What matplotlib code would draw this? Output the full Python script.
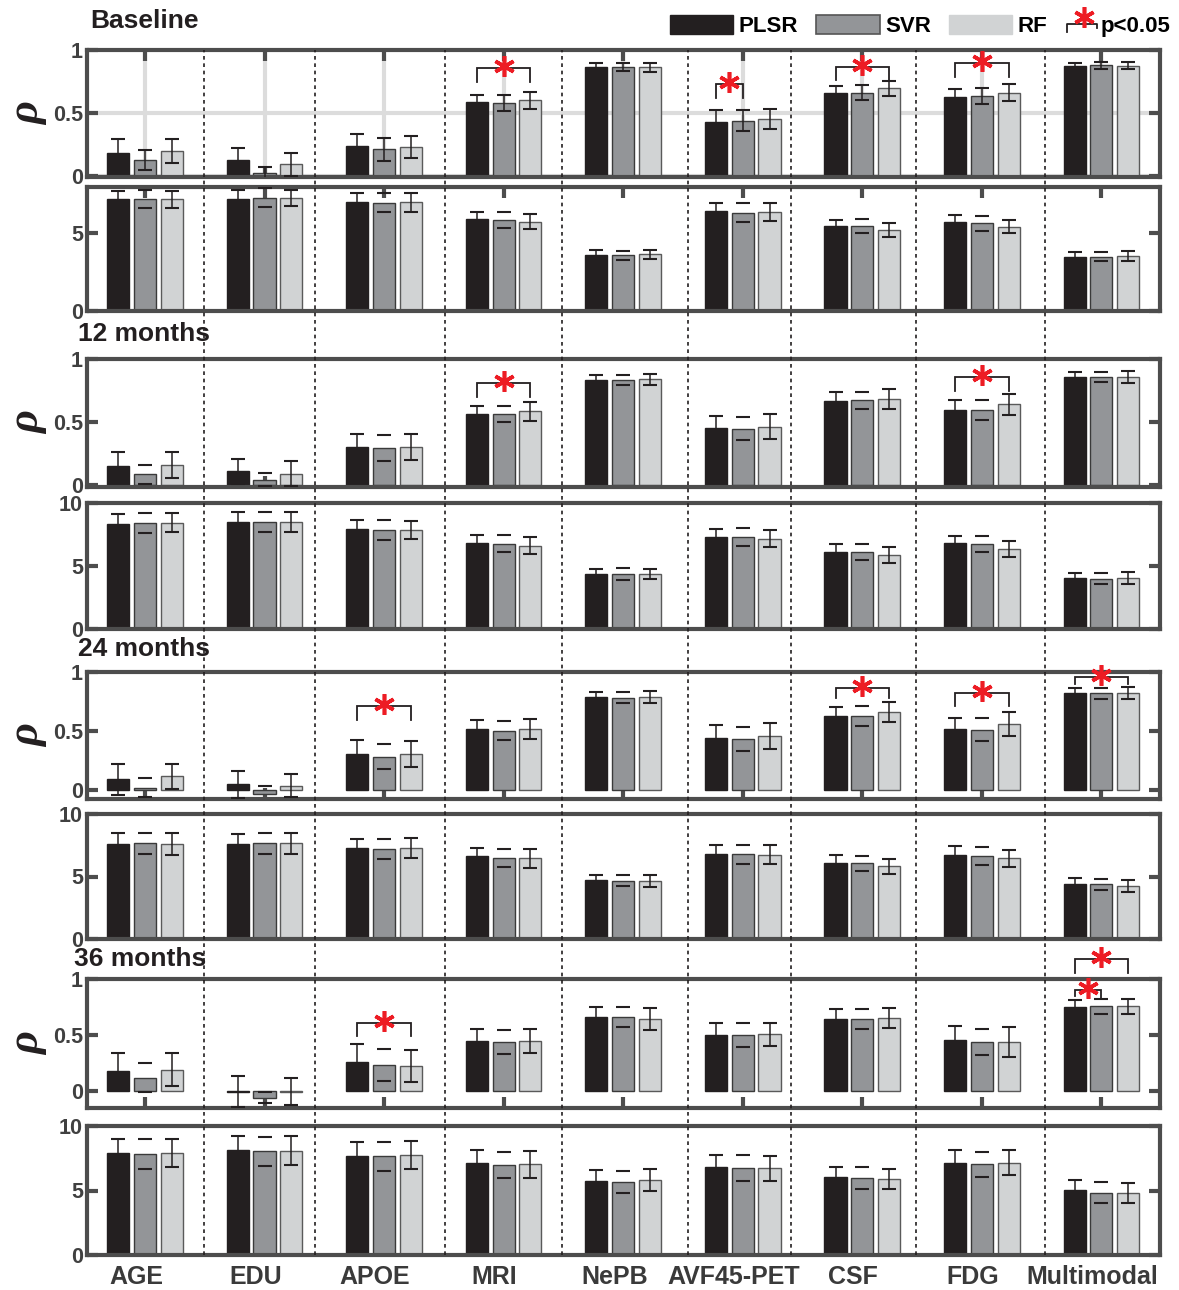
import matplotlib
matplotlib.use('Agg')
import matplotlib.pyplot as plt
import numpy as np
from matplotlib.patches import Patch
from matplotlib.lines import Line2D
from matplotlib.legend_handler import HandlerBase
from matplotlib.transforms import ScaledTranslation

plt.rcParams['font.family'] = ['Liberation Sans', 'DejaVu Sans']
plt.rcParams['font.weight'] = 'bold'

# ---------------- data ----------------
categories = ['AGE', 'EDU', 'APOE', 'MRI', 'NePB', 'AVF45-PET', 'CSF', 'FDG', 'Multimodal']
methods = ['PLSR', 'SVR', 'RF']
timepoints = ['Baseline', '12 months', '24 months', '36 months']

# correlation (rho) – rows: PLSR, SVR, RF
rho_baseline = [[0.18, 0.124, 0.24, 0.584, 0.868, 0.427, 0.662, 0.624, 0.876],
                [0.124, 0.02, 0.21, 0.578, 0.865, 0.438, 0.662, 0.632, 0.878],
                [0.195, 0.09, 0.23, 0.60, 0.862, 0.449, 0.695, 0.662, 0.876]]
rho_baseline_err = [[0.11, 0.10, 0.09, 0.056, 0.03, 0.093, 0.054, 0.066, 0.024],
                    [0.078, 0.05, 0.09, 0.062, 0.03, 0.082, 0.058, 0.063, 0.027],
                    [0.095, 0.09, 0.09, 0.067, 0.033, 0.081, 0.062, 0.07, 0.027]]
rho_12m = [[0.151, 0.109, 0.305, 0.565, 0.833, 0.456, 0.668, 0.594, 0.857],
           [0.085, 0.042, 0.292, 0.56, 0.836, 0.448, 0.671, 0.594, 0.857],
           [0.159, 0.088, 0.302, 0.584, 0.838, 0.464, 0.682, 0.639, 0.857]]
rho_12m_err = [[0.114, 0.10, 0.103, 0.061, 0.042, 0.093, 0.072, 0.077, 0.043],
               [0.075, 0.05, 0.103, 0.063, 0.04, 0.093, 0.07, 0.08, 0.043],
               [0.10, 0.10, 0.103, 0.074, 0.042, 0.096, 0.079, 0.08, 0.045]]
rho_24m = [[0.09, 0.048, 0.307, 0.515, 0.786, 0.445, 0.625, 0.521, 0.825],
           [0.02, -0.03, 0.282, 0.504, 0.783, 0.431, 0.628, 0.51, 0.82],
           [0.115, 0.037, 0.304, 0.518, 0.786, 0.456, 0.662, 0.558, 0.822]]
rho_24m_err = [[0.13, 0.112, 0.118, 0.079, 0.045, 0.104, 0.079, 0.087, 0.04],
               [0.08, 0.06, 0.107, 0.079, 0.048, 0.104, 0.087, 0.098, 0.045],
               [0.105, 0.10, 0.113, 0.088, 0.051, 0.11, 0.084, 0.104, 0.048]]
rho_36m = [[0.18, -0.005, 0.26, 0.446, 0.658, 0.503, 0.646, 0.455, 0.747],
           [0.12, -0.06, 0.235, 0.44, 0.664, 0.50, 0.646, 0.438, 0.756],
           [0.19, -0.005, 0.223, 0.446, 0.64, 0.506, 0.652, 0.438, 0.756]]
rho_36m_err = [[0.16, 0.135, 0.157, 0.111, 0.092, 0.104, 0.086, 0.122, 0.063],
               [0.13, 0.05, 0.143, 0.108, 0.09, 0.105, 0.09, 0.115, 0.068],
               [0.146, 0.12, 0.147, 0.104, 0.098, 0.101, 0.089, 0.132, 0.068]]

# second metric (error) – rows: PLSR, SVR, RF
rmse_baseline = [[7.17, 7.21, 6.97, 5.88, 3.60, 6.42, 5.45, 5.71, 3.48],
                 [7.19, 7.27, 6.95, 5.82, 3.56, 6.31, 5.45, 5.64, 3.48],
                 [7.15, 7.25, 6.97, 5.73, 3.63, 6.35, 5.19, 5.41, 3.52]]
rmse_baseline_err = [[0.55, 0.52, 0.60, 0.49, 0.28, 0.53, 0.41, 0.43, 0.28],
                     [0.58, 0.62, 0.60, 0.53, 0.28, 0.60, 0.43, 0.48, 0.30],
                     [0.52, 0.50, 0.60, 0.47, 0.30, 0.55, 0.45, 0.41, 0.30]]
rmse_12m = [[8.35, 8.53, 7.92, 6.85, 4.40, 7.28, 6.13, 6.80, 4.05],
            [8.43, 8.48, 7.84, 6.77, 4.37, 7.28, 6.10, 6.75, 4.00],
            [8.43, 8.50, 7.89, 6.61, 4.37, 7.17, 5.89, 6.37, 4.05]]
rmse_12m_err = [[0.80, 0.78, 0.75, 0.64, 0.40, 0.69, 0.59, 0.61, 0.43],
                [0.80, 0.80, 0.80, 0.68, 0.45, 0.72, 0.64, 0.63, 0.43],
                [0.77, 0.78, 0.72, 0.67, 0.43, 0.70, 0.62, 0.62, 0.45]]
rmse_24m = [[7.60, 7.63, 7.28, 6.61, 4.69, 6.80, 6.08, 6.75, 4.43],
            [7.65, 7.65, 7.17, 6.51, 4.67, 6.77, 6.05, 6.67, 4.37],
            [7.57, 7.65, 7.25, 6.45, 4.61, 6.75, 5.81, 6.45, 4.24]]
rmse_24m_err = [[0.85, 0.80, 0.75, 0.70, 0.46, 0.75, 0.61, 0.72, 0.47],
                [0.85, 0.85, 0.80, 0.72, 0.45, 0.77, 0.59, 0.72, 0.46],
                [0.88, 0.85, 0.80, 0.75, 0.48, 0.74, 0.62, 0.67, 0.51]]
rmse_36m = [[7.87, 8.13, 7.66, 7.12, 5.77, 6.86, 6.03, 7.17, 5.06],
            [7.84, 8.03, 7.66, 6.99, 5.64, 6.75, 5.95, 7.04, 4.83],
            [7.90, 8.10, 7.77, 7.04, 5.82, 6.73, 5.90, 7.17, 4.78]]
rmse_36m_err = [[1.12, 1.09, 1.07, 1.04, 0.85, 0.93, 0.83, 0.99, 0.73],
                [1.15, 1.15, 1.12, 1.00, 0.86, 0.98, 0.85, 0.98, 0.80],
                [1.09, 1.09, 1.09, 1.04, 0.88, 0.98, 0.80, 0.99, 0.78]]

# significance brackets: (category index, from method, to method, top, left leg end, right leg end)
sig_baseline = [(3, 0, 2, 0.857, 0.746, 0.746), (5, 0, 1, 0.73, 0.62, 0.62),
                (6, 0, 2, 0.865, 0.76, 0.76), (7, 0, 2, 0.897, 0.786, 0.786)]
sig_12m = [(3, 0, 2, 0.81, 0.70, 0.70), (7, 0, 2, 0.857, 0.743, 0.743)]
sig_24m = [(2, 0, 2, 0.715, 0.597, 0.597), (6, 0, 2, 0.868, 0.783, 0.783),
           (7, 0, 2, 0.825, 0.713, 0.713), (8, 0, 2, 0.958, 0.90, 0.90)]
sig_36m = [(2, 0, 2, 0.61, 0.49, 0.49), (8, 0, 1, 0.90, 0.845, 0.824),
           (8, 0, 2, 1.176, 1.057, 1.057)]

# group separators (dashed lines) in category units
separators = [0.49, 1.42, 2.51, 3.49, 4.54, 5.40, 6.45, 7.53]

# ---------------- style ----------------
FACE = ['#231f20', '#939598', '#d1d3d4']
EDGE = ['#231f20', '#3a3a3a', '#5a5a5a']
SPINE_C = '#4d4d4d'
TICK_C = '#404040'
STAR_C = '#ed1c24'
BAR_W = 0.185
OFFS = [-0.224, 0.0, 0.224]
XLIM = (-0.485, 8.49)

W, H = 1179, 1290
fig = plt.figure(figsize=(W / 100, H / 100), dpi=100)

panels_px = [(50, 177), (187, 311), (359, 487), (503, 629),
             (672, 799), (814, 939), (979, 1108), (1126, 1255)]
LEFT_PX, RIGHT_PX = 87, 1160

rho_sets = [(rho_baseline, rho_baseline_err), (rho_12m, rho_12m_err),
            (rho_24m, rho_24m_err), (rho_36m, rho_36m_err)]
rmse_sets = [(rmse_baseline, rmse_baseline_err), (rmse_12m, rmse_12m_err),
             (rmse_24m, rmse_24m_err), (rmse_36m, rmse_36m_err)]
sig_sets = [sig_baseline, sig_12m, sig_24m, sig_36m]
rho_ylims = [(-0.01, 1.0), (-0.016, 1.0), (-0.076, 1.0), (-0.152, 1.0)]
rmse_ylims = [(0, 7.95), (0, 10), (0, 10), (0, 10)]
rmse_ticks = [[0, 5], [0, 5, 10], [0, 5, 10], [0, 5, 10]]
title_off = [(3, 29), (-9, 25), (-9, 23), (-13, 20)]


def make_ax(top, bot):
    return fig.add_axes([LEFT_PX / W, 1 - bot / H, (RIGHT_PX - LEFT_PX) / W, (bot - top) / H])


def style_ax(ax, top_ticks, bottom_ticks, label_bottom):
    for sp in ax.spines.values():
        sp.set_color(SPINE_C)
        sp.set_linewidth(3.0)
    ax.set_xlim(*XLIM)
    ax.set_xticks(np.arange(len(categories)))
    ax.tick_params(axis='both', direction='in', length=8, width=3, color=SPINE_C,
                   labelsize=15.5, labelcolor=TICK_C)
    ax.tick_params(axis='y', left=True, right=True, pad=3)
    ax.tick_params(axis='x', top=top_ticks, bottom=bottom_ticks, labelbottom=label_bottom, pad=7)
    if not label_bottom:
        ax.set_xticklabels([])


def draw_bars(ax, means, errs, full_svr):
    x = np.arange(len(categories))
    for k in range(3):
        xs = x + OFFS[k]
        ax.bar(xs, means[k], width=BAR_W, color=FACE[k], edgecolor=EDGE[k], linewidth=1.0, zorder=2)
        elw = 1.1 if (k != 1 or full_svr) else 0.0
        ax.errorbar(xs, means[k], yerr=errs[k], fmt='none', ecolor='#231f20',
                    elinewidth=elw, capsize=5.0, capthick=1.5, zorder=3)


def fmt(v):
    return '%g' % v


star_shift = ScaledTranslation(0, 2 / 100, fig.dpi_scale_trans)

for t in range(4):
    # ---- rho panel ----
    ax = make_ax(*panels_px[2 * t])
    means, errs = rho_sets[t]
    if t == 0:
        for xv in np.arange(len(categories)):
            ax.axvline(xv, color='#dcdcdc', lw=3, zorder=0.5)
        for yv in [0, 0.5]:
            ax.axhline(yv, color='#dcdcdc', lw=3, zorder=0.5)
    draw_bars(ax, means, errs, full_svr=(t == 0))
    ax.set_ylim(*rho_ylims[t])
    ax.set_yticks([0, 0.5, 1])
    ax.set_yticklabels([fmt(v) for v in [0, 0.5, 1]])
    style_ax(ax, top_ticks=(t == 0), bottom_ticks=True, label_bottom=False)
    ax.set_ylabel('ρ', fontsize=32, rotation=90, color='#231f20',
                  family=['Liberation Serif', 'DejaVu Serif'], style='italic', weight='bold')
    ax.yaxis.set_label_coords(-0.036, 0.5)
    ax.annotate(timepoints[t], xy=(0, 1), xycoords='axes fraction', xytext=title_off[t],
                textcoords='offset pixels', ha='left', va='center', fontsize=19,
                weight='bold', color='#231f20')
    for (c, a, b, top, la, lb) in sig_sets[t]:
        xa, xb = c + OFFS[a], c + OFFS[b]
        ax.plot([xa, xa, xb, xb], [la, top, top, lb], color='#231f20', lw=1.3,
                clip_on=False, zorder=4, solid_joinstyle='miter')
        ax.plot([(xa + xb) / 2], [top], marker=(6, 2, 0), ms=15, mew=2.6, color=STAR_C,
                clip_on=False, zorder=5, transform=ax.transData + star_shift, linestyle='none')

    # ---- error panel ----
    ax2 = make_ax(*panels_px[2 * t + 1])
    means, errs = rmse_sets[t]
    draw_bars(ax2, means, errs, full_svr=False)
    ax2.set_ylim(*rmse_ylims[t])
    ax2.set_yticks(rmse_ticks[t])
    ax2.set_yticklabels([fmt(v) for v in rmse_ticks[t]])
    last = (t == 3)
    style_ax(ax2, top_ticks=(t == 0), bottom_ticks=False, label_bottom=last)
    if last:
        ax2.set_xticklabels(categories, fontsize=18, color='#3a3a3a', weight='bold')
        shift = ScaledTranslation(-9 / 100, 0, fig.dpi_scale_trans)
        for lab in ax2.get_xticklabels():
            lab.set_transform(lab.get_transform() + shift)

# ---- dashed separators spanning all panels ----
ov = fig.add_axes([LEFT_PX / W, 1 - 1255 / H, (RIGHT_PX - LEFT_PX) / W, (1255 - 50) / H], zorder=10)
ov.set_xlim(*XLIM)
ov.set_ylim(0, 1)
ov.axis('off')
ov.patch.set_alpha(0)
for s in separators:
    ov.axvline(s, color='#231f20', lw=1.2, linestyle=(0, (2.2, 2.2)))

# ---- legends ----
handles = [Patch(facecolor=FACE[0], edgecolor=FACE[0]),
           Patch(facecolor=FACE[1], edgecolor='#555555', linewidth=1.2),
           Patch(facecolor=FACE[2], edgecolor=FACE[2])]
leg1 = fig.legend(handles, methods, loc='center left', bbox_to_anchor=(670 / W, 1 - 26 / H),
                  ncol=3, frameon=False, fontsize=16, handlelength=2.85, handleheight=0.95,
                  handletextpad=0.25, columnspacing=0.8, borderpad=0, borderaxespad=0)
for txt in leg1.get_texts():
    txt.set_weight('bold')


class BracketHandle:
    pass


class HandlerBracket(HandlerBase):
    def create_artists(self, legend, orig_handle, xdescent, ydescent, width, height, fontsize, trans):
        x0, y0 = -xdescent, -ydescent
        line = Line2D([x0, x0, x0 + width, x0 + width],
                      [y0 + 0.12 * height, y0 + 0.55 * height, y0 + 0.55 * height, y0 + 0.31 * height],
                      color='#231f20', lw=1.3, transform=trans)
        star = Line2D([x0 + width * 0.55], [y0 + 0.9 * height], marker=(6, 2, 0), ms=15, mew=2.6,
                      color=STAR_C, linestyle='none', transform=trans)
        return [line, star]


leg2 = fig.legend([BracketHandle()], ['p<0.05'], handler_map={BracketHandle: HandlerBracket()},
                  loc='center left', bbox_to_anchor=(1067 / W, 1 - 26 / H), frameon=False,
                  fontsize=16, handlelength=1.35, handleheight=1.0, handletextpad=0.15,
                  borderpad=0, borderaxespad=0)
for txt in leg2.get_texts():
    txt.set_weight('bold')

fig.savefig('out.png', dpi=100)
